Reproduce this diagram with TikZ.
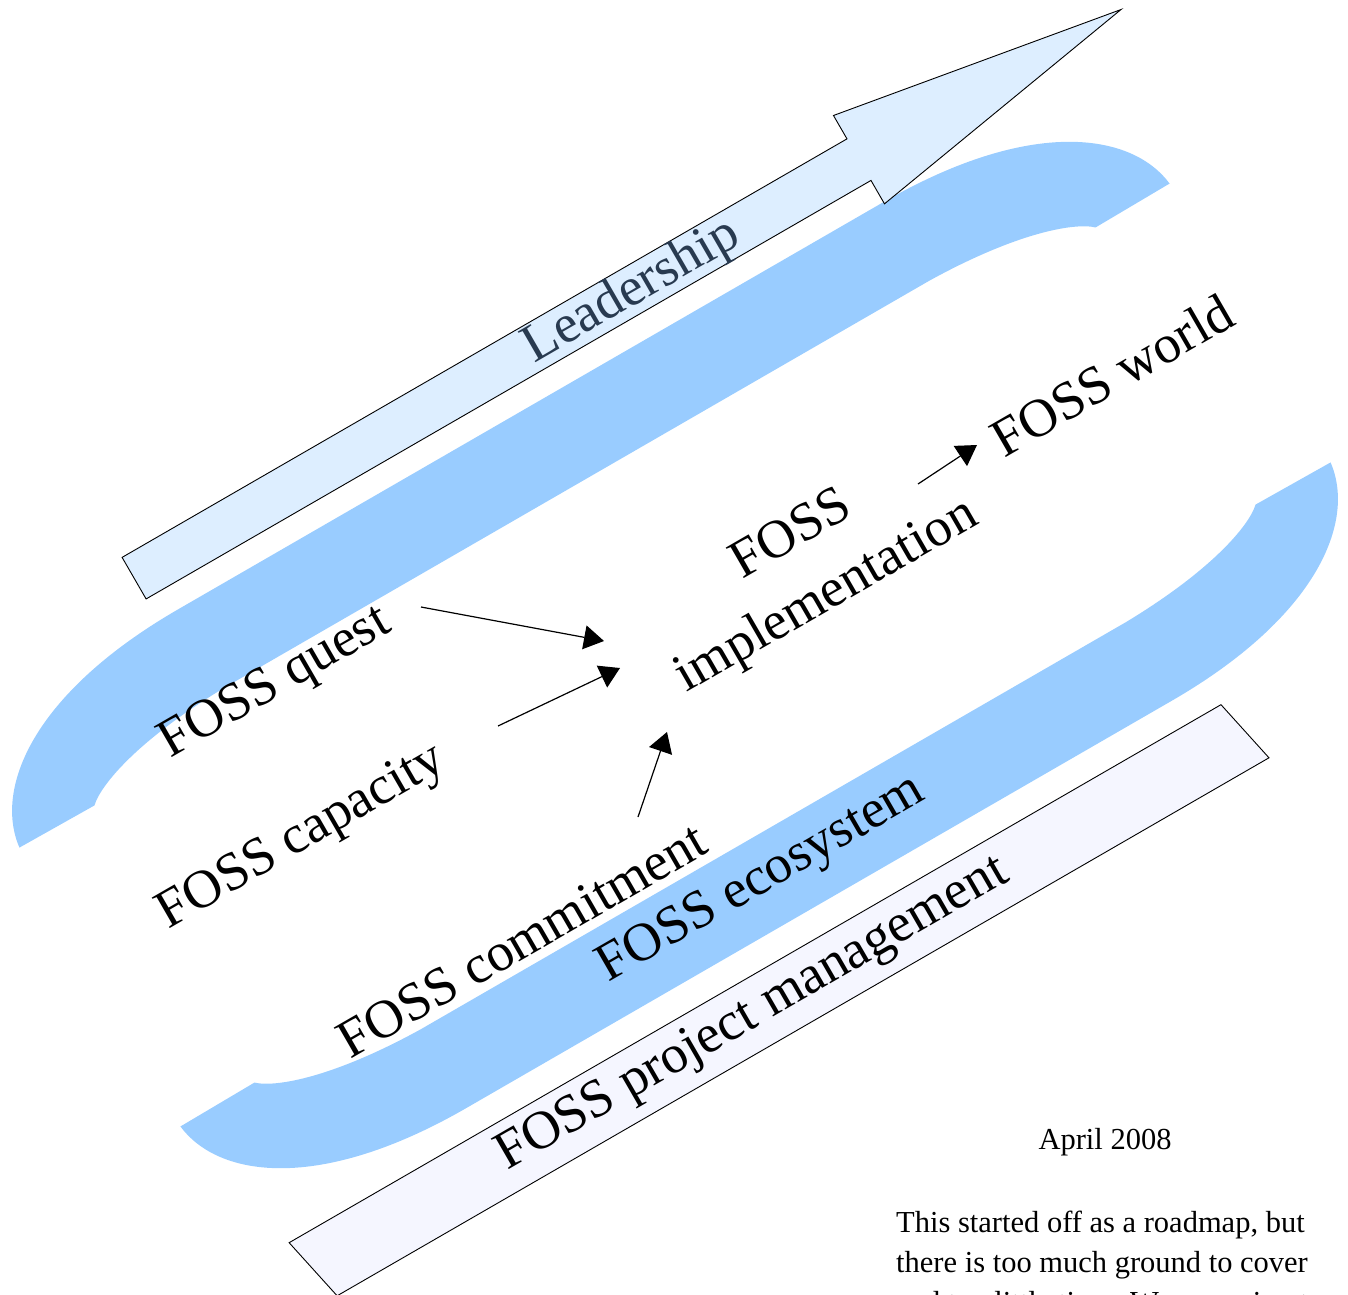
\documentclass[tikz,border=0pt]{standalone}
\usepackage{fontspec}
\setmainfont{Liberation Serif}
\usetikzlibrary{arrows.meta}

\definecolor{bandblue}{RGB}{153,204,255}
\definecolor{leadfill}{RGB}{221,238,255}
\definecolor{pmfill}{RGB}{245,246,255}
\definecolor{leadtext}{RGB}{40,58,80}

\begin{document}
\begin{tikzpicture}[x=1pt,y=1pt,
	label/.style={rotate=30,inner sep=0pt,font=\fontsize{54}{70}\selectfont},
	flow/.style={-{Triangle[length=20pt,width=24pt]},line width=1.2pt},
	note/.style={inner sep=0pt,font=\fontsize{30.5}{40}\selectfont}]

	\useasboundingbox (0,0) rectangle (1348,-1294);

	% bands, arrow and bar, turned 30 degrees round the middle
	\begin{scope}[shift={(675,-655)},rotate=30]
	\fill[bandblue] (-664,161) .. controls (-657,224) and (-577,288) .. (-407,288)
		-- (407,288) .. controls (577,288) and (657,224) .. (664,161)
		-- (578,160) .. controls (562,175) and (507,195) .. (407,197)
		-- (-407,197) .. controls (-507,195) and (-562,175) .. (-578,160) -- cycle;
	\fill[bandblue] (664,-161) .. controls (657,-224) and (577,-288) .. (407,-288)
		-- (-407,-288) .. controls (-577,-288) and (-657,-224) .. (-664,-161)
		-- (-578,-160) .. controls (-562,-175) and (-507,-195) .. (-407,-197)
		-- (407,-197) .. controls (507,-195) and (562,-175) .. (578,-160) -- cycle;

	\draw[line width=0.9pt,fill=leadfill] (-430,313) -- (-430,361) -- (407,361) -- (407,388)
		-- (709,336) -- (407,286) -- (407,313) -- cycle;
	\draw[line width=0.9pt,fill=pmfill] (-628,-316) -- (448,-316) -- (463,-386) -- (-613,-386) -- cycle;
	\end{scope}

	\node[label,text=leadtext] (lead) at (632,-292) {Leadership};
	\node[label] (quest) at (276,-684) {FOSS quest};
	\node[label] (capacity) at (302,-838) {FOSS capacity};
	\node[label] (commit) at (522,-940) {FOSS commitment};
	\node[label,align=center] (impl) at (810,-567) {FOSS\\implementation};
	\node[label] (world) at (1112,-375) {FOSS world};
	\node[label] (eco) at (762,-880) {FOSS ecosystem};
	\node[label] (pm) at (753,-1015) {FOSS project management};

	\coordinate (from-quest) at (421,-607);
	\coordinate (to-impl-a) at (604,-641);
	\coordinate (from-capacity) at (498,-726);
	\coordinate (to-impl-b) at (620,-668);
	\coordinate (from-commit) at (638,-817);
	\coordinate (to-impl-c) at (667,-732);
	\coordinate (from-impl) at (918,-484);
	\coordinate (to-world) at (977,-445);

	\draw[flow] (from-quest) -- (to-impl-a);
	\draw[flow] (from-capacity) -- (to-impl-b);
	\draw[flow] (from-commit) -- (to-impl-c);
	\draw[flow] (from-impl) -- (to-world);

	\node[note] (date) at (1105,-1142) {April 2008};
	\node[note,anchor=north west,align=left] (remark) at (896,-1211)
		{This started off as a roadmap, but\\there is too much ground to cover\\and too little time. We are going to};

\end{tikzpicture}
\end{document}
